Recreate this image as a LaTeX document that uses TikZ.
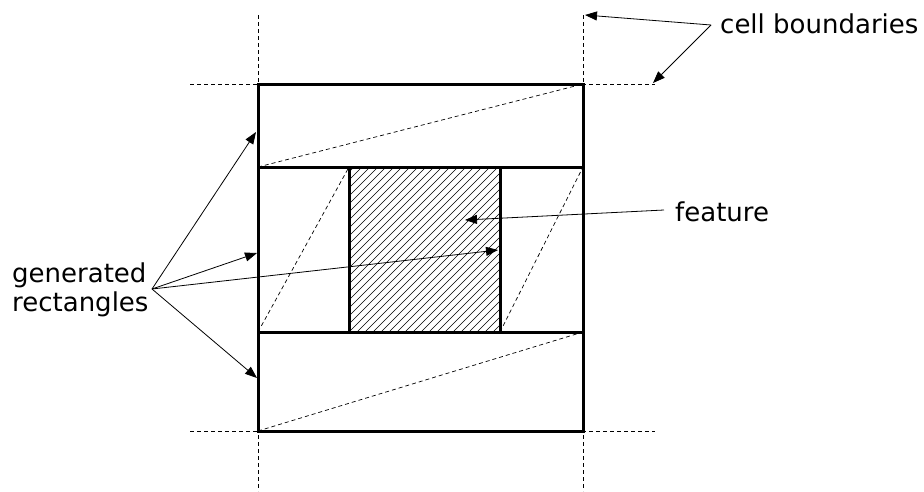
\documentclass[tikz,border=0pt]{standalone}
\usepackage{fontspec}
\setmainfont{DejaVu Sans}
\usetikzlibrary{arrows.meta}
\begin{document}
\begin{tikzpicture}[x=1pt,y=-1pt,
  thickline/.style={line width=3pt},
  cellline/.style={line width=0.8pt,dash pattern=on 4pt off 3pt},
  diagline/.style={line width=0.7pt,dash pattern=on 4pt off 3pt},
  pointer/.style={line width=0.8pt,-{Triangle[length=12pt,width=9pt]}},
  lbl/.style={font=\fontsize{26}{29}\selectfont, inner sep=0pt}]
\useasboundingbox (0,0) rectangle (924,491);
% coordinates
\coordinate (A) at (258,84);
\coordinate (B) at (583,84);
\coordinate (C) at (583,431);
\coordinate (D) at (258,431);
\coordinate (L1) at (258,167);
\coordinate (R1) at (583,167);
\coordinate (L2) at (258,332);
\coordinate (R2) at (583,332);
\coordinate (F1) at (349,167);
\coordinate (F2) at (500,167);
\coordinate (F3) at (500,332);
\coordinate (F4) at (349,332);
% hatching
\begin{scope}
\clip (F1) rectangle (F3);
\foreach \i in {-25,...,40} {
  \draw[line width=0.6pt] (349+\i*8,332) -- ++(165,-165);
}
\end{scope}
% cell boundaries (dashed)
\coordinate (VT1) at (258,15);
\coordinate (VB1) at (258,491);
\coordinate (VT2) at (583,15);
\coordinate (VB2) at (583,491);
\coordinate (HL1) at (190,84);
\coordinate (HR1) at (655,84);
\coordinate (HL2) at (190,431);
\coordinate (HR2) at (655,431);
\draw[cellline] (VT1) -- (VB1);
\draw[cellline] (VT2) -- (VB2);
\draw[cellline] (HL1) -- (HR1);
\draw[cellline] (HL2) -- (HR2);
% diagonals
\draw[diagline] (L1) -- (B);
\draw[diagline] (L2) -- (F1);
\draw[diagline] (F3) -- (R1);
\draw[diagline] (D) -- (R2);
% rectangles
\draw[thickline] (A) rectangle (C);
\draw[thickline] (L1) -- (R1);
\draw[thickline] (L2) -- (R2);
\draw[thickline] (F1) -- (F4);
\draw[thickline] (F2) -- (F3);
% labels
\node[lbl, anchor=west] (cb) at (720,24) {cell boundaries};
\node[lbl, anchor=west] (ft) at (675,212) {feature};
\node[lbl, anchor=west, align=left] (gr) at (12,290) {generated\\rectangles};
\coordinate (cbt) at (711,25);
\coordinate (ftt) at (664,210);
\coordinate (grt) at (152,289);
\draw[pointer] (cbt) -- (585,15);
\draw[pointer] (cbt) -- (653,83);
\draw[pointer] (ftt) -- (465,220);
\draw[pointer] (grt) -- (256,132);
\draw[pointer] (grt) -- (257,253);
\draw[pointer] (grt) -- (498,250);
\draw[pointer] (grt) -- (257,378);
\end{tikzpicture}
\end{document}
